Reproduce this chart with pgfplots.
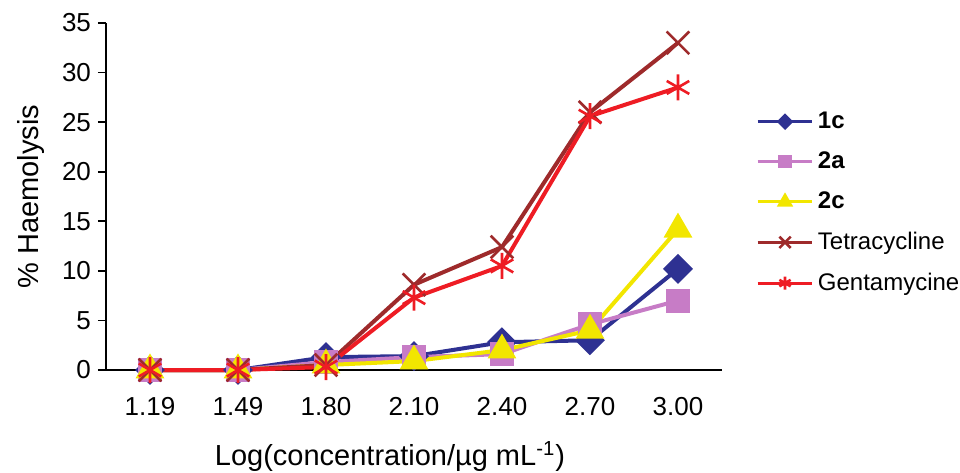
\documentclass[border=0pt]{standalone}
\usepackage{fontspec}
\setmainfont{Liberation Sans}
\usepackage{pgfplots}
\pgfplotsset{compat=1.18}

\definecolor{c1c}{HTML}{2E3192}
\definecolor{c2a}{HTML}{C77CC6}
\definecolor{c2c}{HTML}{F2E600}
\definecolor{ctet}{HTML}{9E2A2B}
\definecolor{cgen}{HTML}{EE1C24}

\begin{document}
\begin{tikzpicture}
\useasboundingbox (0,0) rectangle (480pt,236pt);
\begin{axis}[
    at={(53pt,51pt)}, anchor=south west,
    scale only axis,
    width=308pt, height=173.5pt,
    axis x line*=bottom, axis y line*=left,
    axis line style={line width=0.8pt, -},
    xmin=-0.5, xmax=6.5,
    ymin=0, ymax=35,
    ytick={0,5,...,35},
    xtick={0,...,6},
    xticklabels={1.19,1.49,1.80,2.10,2.40,2.70,3.00},
    x tick style={draw=none},
    extra x ticks={0.5,1.5,...,6.5},
    extra x tick labels={},
    extra x tick style={tick style={draw=black, line width=0.8pt}, major tick length=4pt, tick align=outside},
    y tick style={line width=0.8pt, black},
    major tick length=4pt,
    tick align=outside,
    tick label style={font=\fontsize{13}{15}\selectfont},
    /pgf/number format/assume math mode=true,
    xticklabel style={yshift=-6pt},
    ylabel={\% Haemolysis},
    xlabel={Log(concentration/µg mL\textsuperscript{-1})},
    label style={font=\fontsize{14.5}{16}\selectfont},
    ylabel style={yshift=2pt},
    xlabel style={xshift=-12pt, yshift=2pt},
    clip=false,
    legend style={
        at={(1.045,0.768)}, anchor=north west,
        draw=none, fill=none,
        font=\fontsize{12}{14}\selectfont,
        row sep=6.2pt,
    },
    legend cell align=left,
    legend image code/.code={
        \draw[mark repeat=2, mark phase=2, line width=1.6pt,
              /tikz/every mark/.append style={scale=0.5}]
        plot coordinates {(0cm,0cm) (0.48cm,0cm) (0.96cm,0cm)};
    },
]
\addplot[c1c, line width=2pt, mark=square*, mark size=4.3pt, mark options={rotate=45, solid}]
coordinates {(0,0) (1,0) (2,1.3) (3,1.4) (4,2.8) (5,3.0) (6,10.2)};
\addlegendentry{\textbf{1c}}
\addplot[c2a, line width=2pt, mark=square*, mark size=5pt]
coordinates {(0,0) (1,0) (2,0.8) (3,1.3) (4,1.6) (5,4.6) (6,7.0)};
\addlegendentry{\textbf{2a}}
\addplot[c2c, line width=2pt, mark=triangle*, mark size=6.3pt]
coordinates {(0,0) (1,0) (2,0.5) (3,0.9) (4,2.0) (5,4.0) (6,14.2)};
\addlegendentry{\textbf{2c}}
\addplot[ctet, line width=2pt, mark=x, mark size=8pt, mark options={line width=1.3pt}]
coordinates {(0,0) (1,0) (2,0.5) (3,8.6) (4,12.4) (5,26.0) (6,33.0)};
\addlegendentry{Tetracycline}
\addplot[cgen, line width=2pt, mark=asterisk, mark size=6.5pt, mark options={line width=1.3pt}]
coordinates {(0,0) (1,0) (2,0.3) (3,7.3) (4,10.5) (5,25.6) (6,28.5)};
\addlegendentry{Gentamycine}
\end{axis}
\end{tikzpicture}
\end{document}
